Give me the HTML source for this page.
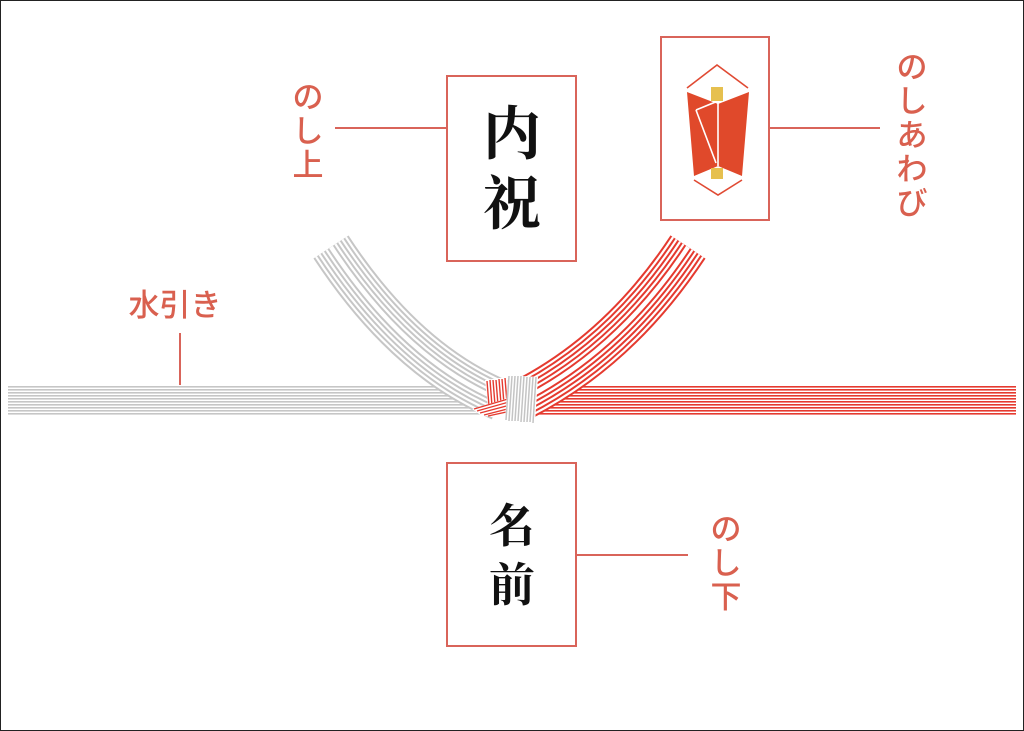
<!DOCTYPE html>
<html><head><meta charset="utf-8"><style>
html,body{margin:0;padding:0;background:#fff;}
svg{display:block;}
.lbl{font-family:"Liberation Sans","Noto Sans CJK JP",sans-serif;fill:#d9604f;font-size:31px;text-anchor:middle;font-weight:500;}
.cal{font-family:"Liberation Serif","Noto Serif CJK SC",serif;font-weight:bold;fill:#111;text-anchor:middle;}
</style></head><body>
<svg width="1024" height="731" viewBox="0 0 1024 731" xmlns="http://www.w3.org/2000/svg">
<defs>
<path id="gc" d="M331,247 Q405,360 500,400" fill="none"/>
<path id="rc" d="M688,247 Q620,350 522,400" fill="none"/>
</defs>
<rect x="0.5" y="0.5" width="1023" height="730" fill="#fff" stroke="#222" stroke-width="1"/>

<g fill="#c6c6c6">
<rect x="8" y="386" width="495" height="1.6"/><rect x="8" y="389" width="495" height="1.6"/><rect x="8" y="392" width="495" height="1.6"/><rect x="8" y="395" width="495" height="1.6"/><rect x="8" y="398" width="495" height="1.6"/><rect x="8" y="401" width="495" height="1.6"/><rect x="8" y="404" width="495" height="1.6"/><rect x="8" y="407" width="495" height="1.6"/><rect x="8" y="410" width="495" height="1.6"/><rect x="8" y="413" width="495" height="1.6"/>
</g>
<g fill="#e53a2f">
<rect x="525" y="386" width="491" height="1.6"/><rect x="525" y="389" width="491" height="1.6"/><rect x="525" y="392" width="491" height="1.6"/><rect x="525" y="395" width="491" height="1.6"/><rect x="525" y="398" width="491" height="1.6"/><rect x="525" y="401" width="491" height="1.6"/><rect x="525" y="404" width="491" height="1.6"/><rect x="525" y="407" width="491" height="1.6"/><rect x="525" y="410" width="491" height="1.6"/><rect x="525" y="413" width="491" height="1.6"/>
</g>

<g>
<use href="#gc" stroke="#c6c6c6" stroke-width="42"/>
<use href="#gc" stroke="#fff" stroke-width="38"/>
<use href="#gc" stroke="#c6c6c6" stroke-width="33.6"/>
<use href="#gc" stroke="#fff" stroke-width="29.6"/>
<use href="#gc" stroke="#c6c6c6" stroke-width="25.2"/>
<use href="#gc" stroke="#fff" stroke-width="21.2"/>
<use href="#gc" stroke="#c6c6c6" stroke-width="16.8"/>
<use href="#gc" stroke="#fff" stroke-width="12.8"/>
<use href="#gc" stroke="#c6c6c6" stroke-width="8.4"/>
<use href="#gc" stroke="#fff" stroke-width="4.4"/>
</g>
<g>
<use href="#rc" stroke="#e53a2f" stroke-width="42"/>
<use href="#rc" stroke="#fff" stroke-width="38"/>
<use href="#rc" stroke="#e53a2f" stroke-width="33.6"/>
<use href="#rc" stroke="#fff" stroke-width="29.6"/>
<use href="#rc" stroke="#e53a2f" stroke-width="25.2"/>
<use href="#rc" stroke="#fff" stroke-width="21.2"/>
<use href="#rc" stroke="#e53a2f" stroke-width="16.8"/>
<use href="#rc" stroke="#fff" stroke-width="12.8"/>
<use href="#rc" stroke="#e53a2f" stroke-width="8.4"/>
<use href="#rc" stroke="#fff" stroke-width="4.4"/>
</g>

<polygon points="485,380 507,377 509,403 488,407" fill="#fff"/>
<g stroke="#e53a2f" stroke-width="1.4">
<line x1="487" y1="381" x2="489" y2="406"/><line x1="490" y1="380" x2="492" y2="406"/><line x1="493" y1="380" x2="495" y2="405"/><line x1="496" y1="380" x2="498" y2="405"/><line x1="499" y1="379" x2="501" y2="404"/><line x1="502" y1="379" x2="504" y2="404"/><line x1="505" y1="378" x2="507" y2="403"/>
</g>
<polygon points="472,409 508,398 512,418 482,416" fill="#fff"/>
<g stroke="#e53a2f" stroke-width="1.3">
<line x1="474" y1="409" x2="508" y2="399"/><line x1="477" y1="411" x2="509" y2="402"/><line x1="480" y1="413" x2="510" y2="405"/><line x1="484" y1="415" x2="511" y2="408"/><line x1="488" y1="416" x2="511" y2="411"/>
</g>
<polygon points="508,375 538,377 535,423 505,421" fill="#fff"/>
<g stroke="#c4c4c4" stroke-width="1.5">
<line x1="509" y1="376" x2="506" y2="420"/><line x1="512" y1="376" x2="509" y2="421"/><line x1="515" y1="376" x2="512" y2="421"/><line x1="518" y1="376" x2="515" y2="421"/><line x1="521" y1="376" x2="518" y2="421"/><line x1="524" y1="376" x2="521" y2="422"/><line x1="527" y1="377" x2="524" y2="422"/><line x1="530" y1="377" x2="527" y2="422"/><line x1="533" y1="377" x2="530" y2="422"/><line x1="536" y1="377" x2="533" y2="423"/>
</g>

<g fill="none" stroke="#d9645a" stroke-width="2">
<rect x="447" y="76" width="129" height="185"/>
<rect x="661" y="37" width="108" height="183"/>
<rect x="447" y="463" width="129" height="183"/>
<line x1="335" y1="128" x2="447" y2="128"/>
<line x1="769" y1="128" x2="880" y2="128"/>
<line x1="576" y1="555" x2="688" y2="555"/>
<line x1="180" y1="333" x2="180" y2="385"/>
</g>

<polyline points="687,88 717,65 748,88" fill="none" stroke="#e04a33" stroke-width="1.6"/>
<polyline points="694,180 718,195 742,180" fill="none" stroke="#e04a33" stroke-width="1.6"/>
<polygon points="687,92 718,104 749,92 742,176 718,166 694,176" fill="#e0492b"/>
<polyline points="696,110 718,101 718,166" fill="none" stroke="#fff" stroke-width="1.6"/>
<line x1="696" y1="110" x2="716" y2="163" stroke="#fff" stroke-width="1.6"/>
<rect x="711" y="87" width="12" height="14" fill="#e6c04f"/>
<rect x="711" y="168" width="12" height="11" fill="#e6c04f"/>

<text class="cal" x="512" y="154" font-size="58">内</text>
<text class="cal" x="512" y="224" font-size="58">祝</text>
<text class="cal" x="512" y="542" font-size="46">名</text>
<text class="cal" x="512" y="601" font-size="46">前</text>

<text class="lbl" x="308" y="108">の</text>
<text class="lbl" x="308" y="142">し</text>
<text class="lbl" x="308" y="176">上</text>
<text class="lbl" x="912" y="78">の</text>
<text class="lbl" x="912" y="112">し</text>
<text class="lbl" x="912" y="146">あ</text>
<text class="lbl" x="912" y="180">わ</text>
<text class="lbl" x="912" y="214">び</text>
<text class="lbl" x="726" y="540">の</text>
<text class="lbl" x="726" y="574">し</text>
<text class="lbl" x="726" y="608">下</text>
<text class="lbl" x="175" y="316">水引き</text>
</svg>
</body></html>
